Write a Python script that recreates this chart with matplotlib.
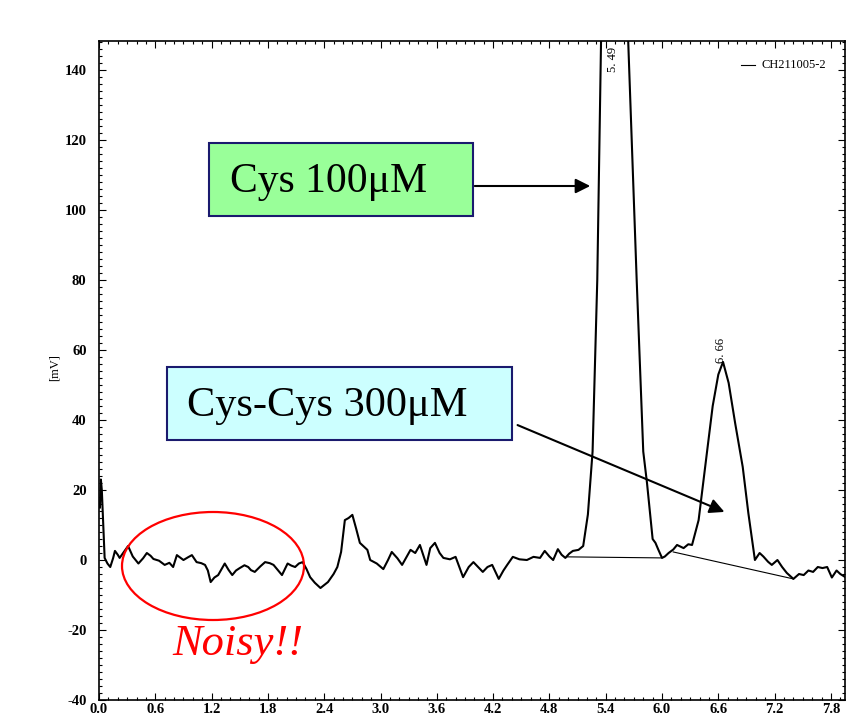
import numpy as np
import matplotlib
matplotlib.use("Agg")
import matplotlib.pyplot as plt
from matplotlib.patches import Rectangle, Ellipse, FancyArrowPatch

plt.rcParams["axes.unicode_minus"] = False

# chromatogram trace CH211005-2 (retention time [min], signal [mV])
t = [0.01, 0.02, 0.03, 0.06, 0.09, 0.12, 0.15, 0.17, 0.20, 0.22, 0.27, 0.31,
     0.36, 0.42, 0.47, 0.51, 0.55, 0.58, 0.64, 0.70, 0.75, 0.79, 0.83, 0.87,
     0.90, 0.95, 0.99, 1.04, 1.09, 1.13, 1.16, 1.19, 1.23, 1.27, 1.34, 1.38,
     1.42, 1.46, 1.50, 1.55, 1.59, 1.62, 1.66, 1.72, 1.77, 1.82, 1.86, 1.91,
     1.95, 2.01, 2.05, 2.09, 2.13, 2.17, 2.21, 2.25, 2.30, 2.36, 2.44, 2.50,
     2.54, 2.58, 2.62, 2.66, 2.70, 2.74, 2.78, 2.86, 2.89, 2.96, 3.03, 3.08,
     3.12, 3.18, 3.23, 3.32, 3.37, 3.42, 3.49, 3.53, 3.58, 3.63, 3.67, 3.74,
     3.80, 3.88, 3.94, 3.99, 4.04, 4.09, 4.14, 4.19, 4.26, 4.31, 4.35, 4.41,
     4.48, 4.56, 4.63, 4.70, 4.75, 4.80, 4.84, 4.89, 4.93, 4.97, 5.01, 5.05,
     5.11, 5.16, 5.21, 5.26, 5.31, 5.35, 5.39, 5.49, 5.59, 5.64, 5.73, 5.80,
     5.84, 5.90, 5.93, 5.96, 6.00, 6.03, 6.07, 6.12, 6.16, 6.23, 6.28, 6.32,
     6.39, 6.43, 6.48, 6.54, 6.60, 6.65, 6.71, 6.78, 6.86, 6.92, 6.99, 7.04,
     7.08, 7.13, 7.17, 7.23, 7.28, 7.33, 7.40, 7.46, 7.51, 7.56, 7.61, 7.66,
     7.71, 7.76, 7.81, 7.86, 7.90, 7.96]
mv = [15.0, 23.0, 20.0, 0.6, -1.0, -2.0, 0.5, 2.6, 1.5, 0.6, 2.5, 4.0,
      1.0, -1.0, 0.5, 2.0, 1.2, 0.3, -0.2, -1.4, -0.8, -2.0, 1.4, 0.6,
      0.0, 0.8, 1.4, -0.6, -0.9, -1.4, -3.0, -6.3, -5.0, -4.3, -1.0, -2.8,
      -4.3, -3.0, -2.3, -1.5, -2.0, -2.9, -3.4, -1.8, -0.6, -0.9, -1.4, -3.0,
      -4.3, -1.0, -1.6, -2.0, -1.0, -0.6, -2.5, -4.9, -6.5, -8.0, -6.3, -4.0,
      -2.0, 2.3, 11.4, 12.0, 12.9, 9.0, 4.9, 2.9, 0.0, -1.0, -2.6, 0.0,
      2.3, 0.5, -1.4, 2.9, 2.0, 4.3, -1.4, 3.4, 4.9, 2.0, 0.6, 0.2,
      0.9, -4.9, -2.0, -0.6, -2.0, -3.4, -2.0, -1.4, -5.4, -3.0, -1.4, 0.9,
      0.2, 0.0, 0.9, 0.6, 2.6, 1.0, 0.0, 3.1, 1.5, 0.6, 1.8, 2.6,
      2.9, 4.0, 13.0, 31.0, 80.0, 148.0, 200.0, 270.0, 200.0, 148.0, 80.0, 31.0,
      22.0, 6.0, 4.9, 3.0, 0.6, 1.0, 2.0, 3.0, 4.3, 3.4, 4.5, 4.3,
      11.4, 20.0, 31.0, 44.0, 53.0, 56.6, 50.6, 39.0, 26.6, 13.4, 0.0, 2.0,
      1.0, -0.5, -1.4, 0.0, -2.0, -3.7, -5.4, -4.0, -4.3, -3.0, -3.4, -2.0,
      -2.3, -2.0, -5.0, -3.0, -4.0, -5.0]

# integration baselines drawn under the two peaks
base1_t = [4.99, 6.00]
base1_mv = [0.9, 0.6]
base2_t = [6.12, 7.40]
base2_mv = [2.3, -5.4]

peak_t = [5.48, 6.63]
peak_lbl = ["5. 49", "6. 66"]
peak_lbl_y = [143, 60]

xticks = [0.0, 0.6, 1.2, 1.8, 2.4, 3.0, 3.6, 4.2, 4.8, 5.4, 6.0, 6.6, 7.2, 7.8]
yticks = [-40, -20, 0, 20, 40, 60, 80, 100, 120, 140]

W, H = 846, 717
fig = plt.figure(figsize=(W / 100, H / 100), dpi=100)
ax = fig.add_axes([99 / W, 1 - 700 / H, 746 / W, 659 / H])

ax.plot(t, mv, color="black", lw=1.5)
ax.plot(base1_t, base1_mv, color="black", lw=0.8)
ax.plot(base2_t, base2_mv, color="black", lw=0.8)
for pt, lbl, ly in zip(peak_t, peak_lbl, peak_lbl_y):
    ax.text(pt, ly, lbl, rotation=90, ha="center", va="center",
            fontsize=9, family="Liberation Serif")

ax.set_xlim(0, 7.95)
ax.set_ylim(-40, 148.3)
ax.set_xticks(xticks)
ax.set_xticklabels(["%.1f" % v for v in xticks])
ax.set_yticks(yticks)
ax.xaxis.set_minor_locator(matplotlib.ticker.MultipleLocator(0.1))
ax.yaxis.set_minor_locator(matplotlib.ticker.MultipleLocator(2))
ax.tick_params(which="both", direction="in", top=True, right=True,
               labelsize=10.5, width=0.8)
ax.tick_params(which="major", length=5)
ax.tick_params(axis="y", which="major", pad=9)
ax.tick_params(axis="x", which="major", pad=2)
ax.tick_params(which="minor", length=2)
for lab in ax.get_xticklabels() + ax.get_yticklabels():
    lab.set_family("Liberation Serif")
    lab.set_fontweight("bold")
for s in ax.spines.values():
    s.set_linewidth(1.2)

ax.text(-0.47, 55, "[mV]", rotation=90, ha="center", va="center",
        fontsize=9, family="Liberation Serif")
ax.plot([6.84, 6.99], [141.5, 141.5], color="black", lw=0.8)
ax.text(7.06, 141.5, "CH211005-2", ha="left", va="center", fontsize=9,
        family="Liberation Serif")

# overlay in pixel units for the callouts
ov = fig.add_axes([0, 0, 1, 1], facecolor="none")
ov.set_xlim(0, W)
ov.set_ylim(H, 0)
ov.axis("off")

ov.add_patch(Rectangle((209, 143), 264, 73, facecolor="#99ff99",
                       edgecolor="#1a1a6e", lw=1.5))
ov.text(230, 182, "Cys 100\u03bcM", fontsize=30, family="Liberation Serif",
        ha="left", va="center")
ov.add_patch(FancyArrowPatch((472, 186), (593, 186), arrowstyle="-|>",
                             mutation_scale=22, color="black", lw=1.5))

ov.add_patch(Rectangle((167, 367), 345, 73, facecolor="#ccffff",
                       edgecolor="#1a1a6e", lw=1.5))
ov.text(187, 406, "Cys-Cys 300\u03bcM", fontsize=30.5, family="Liberation Serif",
        ha="left", va="center")
ov.add_patch(FancyArrowPatch((515, 424), (727, 513), arrowstyle="-|>",
                             mutation_scale=22, color="black", lw=1.5))

ov.add_patch(Ellipse((213, 566), 182, 108, facecolor="none",
                     edgecolor="red", lw=1.6))
ov.text(172, 655, "Noisy!!", color="red", fontsize=32, style="italic",
        family="Liberation Serif", ha="left", va="baseline")

fig.savefig("out.png", dpi=100)
